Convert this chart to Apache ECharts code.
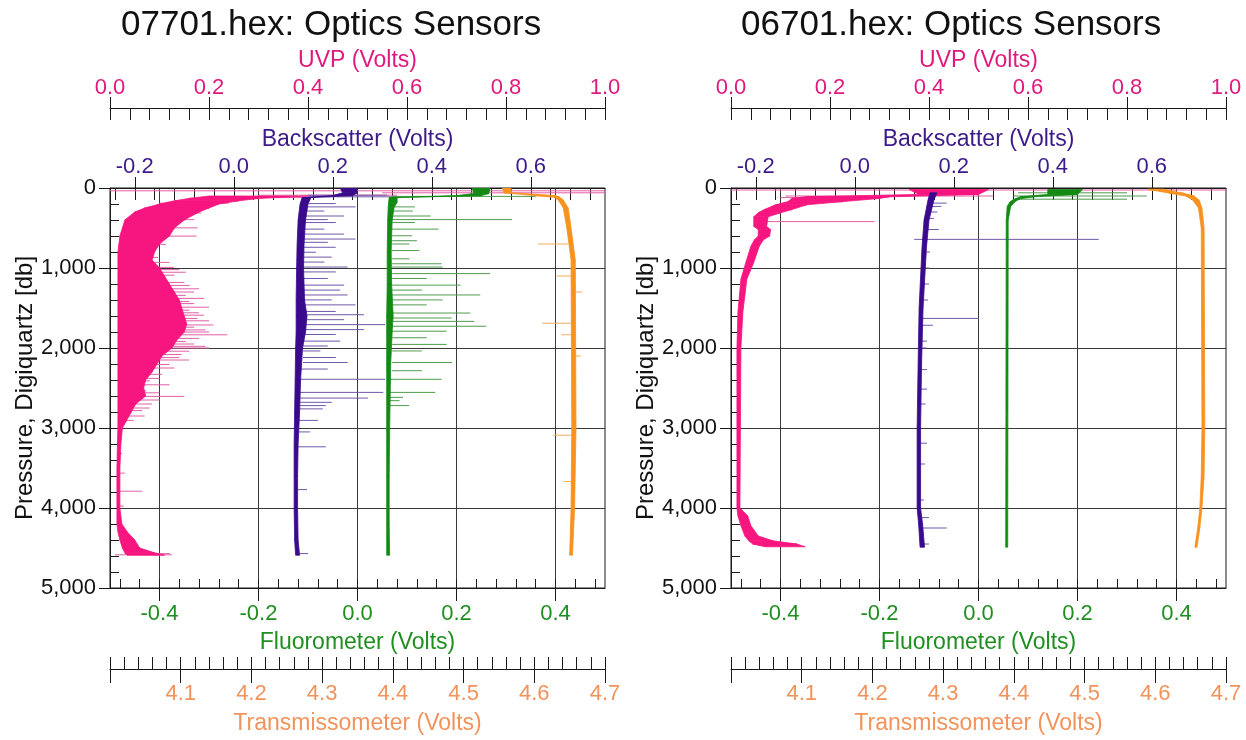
<!DOCTYPE html>
<html>
<head>
<meta charset="utf-8">
<script src="https://cdn.jsdelivr.net/npm/echarts@6/dist/echarts.min.js"></script>
<style>html,body{margin:0;padding:0;background:#fff}#c{width:1246px;height:740px}</style>
</head>
<body>
<div id="c"></div>
<script>
// ---------- text ----------
const titles = ['07701.hex: Optics Sensors', '06701.hex: Optics Sensors'];
const axisNames = { uvp: 'UVP (Volts)', bs: 'Backscatter (Volts)', fl: 'Fluorometer (Volts)', tr: 'Transmissometer (Volts)', depth: 'Pressure, Digiquartz [db]' };

// ---------- tick labels ----------
const uvpTicks = [0, 0.2, 0.4, 0.6, 0.8, 1.0];
const bsTicks = [-0.2, 0, 0.2, 0.4, 0.6];
const flTicks = [-0.4, -0.2, 0, 0.2, 0.4];
const trTicks = [4.1, 4.2, 4.3, 4.4, 4.5, 4.6, 4.7];
const depthTicks = [0, 1000, 2000, 3000, 4000, 5000];

// ---------- data: bands [depth, low, high], spikes [depth, from, to] ----------
// Panel 1: 07701
const A_uvpBand = [[100,0.20,0.40],[130,0.16,0.30],[160,0.13,0.26],[200,0.10,0.22],[250,0.07,0.20],[300,0.05,0.18],[400,0.03,0.15],[500,0.025,0.13],[600,0.02,0.12],[700,0.018,0.10],[800,0.016,0.09],[900,0.016,0.085],[1000,0.016,0.10],[1100,0.016,0.11],[1200,0.016,0.12],[1300,0.016,0.13],[1400,0.016,0.14],[1500,0.016,0.145],[1600,0.016,0.15],[1700,0.016,0.155],[1800,0.016,0.15],[1900,0.016,0.135],[2000,0.016,0.125],[2100,0.016,0.105],[2200,0.016,0.095],[2300,0.016,0.085],[2400,0.016,0.072],[2500,0.016,0.068],[2600,0.016,0.072],[2700,0.016,0.052],[2800,0.016,0.043],[2900,0.016,0.034],[3000,0.016,0.025],[3200,0.015,0.022],[3500,0.014,0.02],[4000,0.014,0.02],[4200,0.014,0.024],[4300,0.016,0.035],[4400,0.02,0.05],[4500,0.025,0.06],[4560,0.03,0.09],[4590,0.035,0.11]];
const A_uvpSpikes = [[35,0.0,1.0],[60,0.55,1.0],[90,0.3,0.58],[120,0.2,0.4],[190,0.1,0.24],[251,0.08,0.2],[313,0.05,0.185],[395,0.03,0.17],[498,0.03,0.177],[601,0.02,0.175],[704,0.02,0.113],[868,0.02,0.097],[930,0.02,0.12],[992,0.02,0.129],[1020,0.02,0.14],[1053,0.02,0.153],[1090,0.02,0.13],[1136,0.02,0.097],[1180,0.02,0.15],[1218,0.02,0.161],[1260,0.02,0.18],[1300,0.02,0.17],[1342,0.02,0.153],[1380,0.02,0.19],[1420,0.02,0.16],[1445,0.02,0.17],[1490,0.02,0.2],[1527,0.02,0.161],[1560,0.02,0.18],[1590,0.02,0.19],[1630,0.02,0.177],[1660,0.02,0.2],[1712,0.02,0.209],[1740,0.02,0.17],[1774,0.02,0.193],[1800,0.02,0.2],[1835,0.02,0.237],[1880,0.02,0.18],[1918,0.02,0.153],[1950,0.02,0.17],[1979,0.02,0.193],[2000,0.02,0.2],[2040,0.02,0.16],[2082,0.02,0.145],[2120,0.02,0.14],[2150,0.02,0.16],[2206,0.02,0.12],[2250,0.02,0.13],[2329,0.02,0.105],[2380,0.02,0.1],[2411,0.02,0.081],[2460,0.02,0.12],[2535,0.02,0.073],[2560,0.02,0.1],[2605,0.02,0.15],[2650,0.02,0.1],[2700,0.02,0.085],[2750,0.02,0.08],[2782,0.02,0.065],[2850,0.02,0.07],[2905,0.02,0.048],[3317,0.015,0.024],[3564,0.015,0.03],[3790,0.015,0.065],[3975,0.015,0.028],[4570,0.03,0.121],[4585,0.01,0.125]];
const A_bsBand = [[0,0.215,0.248],[60,0.22,0.25],[95,0.2,0.24],[120,0.138,0.156],[200,0.134,0.15],[400,0.13,0.145],[700,0.128,0.142],[1000,0.127,0.141],[1400,0.126,0.143],[1600,0.126,0.148],[1800,0.126,0.145],[2000,0.125,0.139],[2400,0.124,0.135],[2800,0.123,0.133],[3200,0.122,0.13],[3600,0.122,0.129],[4000,0.122,0.129],[4400,0.123,0.13],[4590,0.125,0.133]];
const A_bsSpikes = [[90,0.15,0.31],[110,0.15,0.34],[195,0.14,0.206],[236,0.14,0.246],[288,0.14,0.183],[350,0.14,0.223],[395,0.14,0.19],[432,0.14,0.206],[514,0.14,0.183],[576,0.14,0.223],[638,0.14,0.246],[679,0.14,0.19],[741,0.14,0.206],[803,0.14,0.166],[864,0.14,0.198],[926,0.14,0.183],[988,0.14,0.23],[1049,0.14,0.206],[1131,0.14,0.19],[1214,0.14,0.223],[1276,0.14,0.215],[1337,0.14,0.23],[1399,0.14,0.198],[1461,0.14,0.246],[1543,0.14,0.206],[1584,0.14,0.263],[1646,0.14,0.223],[1708,0.14,0.306],[1770,0.14,0.263],[1831,0.14,0.206],[1914,0.14,0.215],[1975,0.14,0.19],[2037,0.14,0.175],[2119,0.14,0.206],[2181,0.14,0.23],[2263,0.13,0.19],[2391,0.13,0.306],[2555,0.13,0.302],[2626,0.13,0.271],[2679,0.13,0.198],[2720,0.13,0.186],[2761,0.13,0.18],[2905,0.13,0.17],[3049,0.13,0.154],[3235,0.13,0.186],[3770,0.13,0.148],[4570,0.13,0.15]];
const A_flBand = [[0,0.232,0.268],[70,0.235,0.265],[95,0.2,0.25],[120,0.064,0.08],[180,0.063,0.08],[240,0.062,0.074],[400,0.061,0.07],[800,0.06,0.068],[1200,0.06,0.069],[1600,0.059,0.072],[1800,0.059,0.07],[2200,0.059,0.067],[2600,0.059,0.066],[3000,0.059,0.065],[3600,0.059,0.064],[4200,0.059,0.064],[4590,0.059,0.065]];
const A_flSpikes = [[105,0.07,0.36],[236,0.07,0.116],[288,0.07,0.112],[350,0.07,0.148],[395,0.07,0.312],[432,0.07,0.116],[514,0.07,0.164],[597,0.07,0.11],[659,0.07,0.12],[700,0.07,0.105],[782,0.07,0.125],[885,0.07,0.105],[947,0.07,0.17],[988,0.07,0.172],[1070,0.07,0.268],[1131,0.07,0.14],[1214,0.07,0.208],[1276,0.07,0.13],[1337,0.07,0.248],[1399,0.07,0.172],[1461,0.07,0.14],[1563,0.07,0.228],[1625,0.07,0.19],[1667,0.07,0.236],[1728,0.07,0.26],[1790,0.07,0.18],[1872,0.07,0.14],[1955,0.07,0.18],[2037,0.07,0.13],[2181,0.07,0.191],[2284,0.07,0.13],[2391,0.065,0.17],[2555,0.065,0.157],[2617,0.065,0.092],[2658,0.065,0.085],[2720,0.065,0.104]];
const A_trBand = [[0,4.555,4.567],[60,4.557,4.568],[95,4.6,4.63],[115,4.628,4.636],[150,4.634,4.641],[250,4.641,4.648],[500,4.646,4.652],[900,4.652,4.658],[3000,4.653,4.659],[4000,4.652,4.657],[4590,4.65,4.654]];
const A_trSpikes = [[700,4.648,4.605],[1100,4.652,4.632],[1300,4.656,4.668],[1690,4.652,4.611],[1835,4.652,4.638],[2100,4.656,4.666],[3090,4.652,4.627],[3670,4.652,4.641]];

// Panel 2: 06701
const B_uvpBand = [[20,0.36,0.52],[80,0.38,0.5],[110,0.15,0.32],[130,0.123,0.3],[170,0.115,0.226],[210,0.09,0.153],[270,0.067,0.123],[310,0.055,0.1],[360,0.046,0.075],[480,0.046,0.072],[520,0.055,0.08],[600,0.055,0.078],[650,0.047,0.065],[730,0.04,0.057],[930,0.03,0.046],[1140,0.02,0.032],[1550,0.014,0.024],[2000,0.012,0.02],[3000,0.012,0.019],[4000,0.012,0.018],[4100,0.014,0.034],[4220,0.02,0.04],[4350,0.028,0.055],[4410,0.036,0.085],[4450,0.044,0.133],[4485,0.069,0.15]];
const B_uvpSpikes = [[25,0.0,1.0],[100,0.11,0.53],[120,0.1,0.3],[420,0.07,0.29]];
const B_bsBand = [[60,0.152,0.166],[150,0.148,0.16],[400,0.14,0.15],[730,0.136,0.145],[1500,0.13,0.138],[2200,0.128,0.135],[3000,0.126,0.133],[4000,0.126,0.133],[4200,0.129,0.137],[4490,0.132,0.141]];
const B_bsSpikes = [[189,0.15,0.186],[230,0.145,0.175],[300,0.145,0.167],[380,0.14,0.16],[519,0.14,0.17],[642,0.12,0.493],[800,0.135,0.152],[1000,0.133,0.15],[1200,0.133,0.15],[1400,0.13,0.148],[1630,0.13,0.251],[1716,0.13,0.158],[1914,0.13,0.146],[2000,0.128,0.145],[2270,0.13,0.146],[2514,0.13,0.146],[2700,0.127,0.143],[3190,0.13,0.146],[3450,0.126,0.142],[3900,0.126,0.14],[4120,0.132,0.15],[4250,0.132,0.186],[4450,0.135,0.15]];
const B_flBand = [[20,0.14,0.21],[80,0.14,0.2],[110,0.085,0.11],[135,0.074,0.084],[170,0.064,0.074],[230,0.058,0.065],[400,0.056,0.06],[4490,0.055,0.059]];
const B_flSpikes = [[60,0.08,0.3],[100,0.07,0.34],[140,0.075,0.3]];
const B_trBand = [[15,4.59,4.612],[40,4.605,4.625],[65,4.62,4.64],[100,4.643,4.655],[150,4.653,4.662],[250,4.661,4.666],[500,4.665,4.669],[3000,4.666,4.67],[3600,4.665,4.669],[4000,4.663,4.666],[4250,4.66,4.663],[4490,4.656,4.659]];
const B_trSpikes = [[30,4.59,4.62]];

// ---------- styling ----------
const FONT = 'Liberation Sans, Arial, sans-serif';
const TXT = { uvp: '#e0197d', bs: '#3d1a8a', fl: '#1f8f1f', tr: '#f2935c' };
const LINE = { uvp: '#f7157f', bs: '#3a0a8c', fl: '#138a13', tr: '#f7921e' };
const SPIKE = { uvp: '#e060a4', bs: '#7058a8', fl: '#4f9c4f', tr: '#f4ad5e' };
const GRIDS = [110, 731];
const TOP = 188, W = 495, H = 404;

function steps(a, b, s) { const r = []; for (let v = a; v <= b + 1e-9; v += s) r.push(Math.round(v * 1000) / 1000); return r; }
const f1 = v => Number(v).toFixed(1);

const panels = [
  { uvp: [A_uvpBand, A_uvpSpikes], bs: [A_bsBand, A_bsSpikes], fl: [A_flBand, A_flSpikes], tr: [A_trBand, A_trSpikes] },
  { uvp: [B_uvpBand, B_uvpSpikes], bs: [B_bsBand, B_bsSpikes], fl: [B_flBand, B_flSpikes], tr: [B_trBand, B_trSpikes] }
];
const axOff = { uvp: 0, bs: 2, fl: 4, tr: 6 };

const grid = [], xAxis = [], yAxis = [], series = [], title = [];
const black = '#1a1a1a';

GRIDS.forEach((left, g) => {
  grid.push({ left: left, top: TOP, width: W, height: H, show: true, borderColor: black, borderWidth: 1, backgroundColor: 'transparent' });
  title.push({ text: titles[g], left: g === 0 ? 116 : 736, top: 3, textStyle: { fontSize: 35, fontWeight: 'normal', color: '#111', fontFamily: FONT } });
  const base = { gridIndex: g, type: 'value', splitLine: { show: false }, axisLine: { onZero: false, lineStyle: { color: black } } };
  const nameStyle = c => ({ color: c, fontSize: 23, fontFamily: FONT });
  // 0 UVP major
  xAxis.push(Object.assign({}, base, { position: 'top', offset: 80, min: 0, max: 1, interval: 0.2,
    axisLine: { show: true, onZero: false, lineStyle: { color: black } },
    axisTick: { show: true, inside: false, length: 11, lineStyle: { color: black } },
    axisLabel: { color: TXT.uvp, fontSize: 22, margin: 9, formatter: f1, fontFamily: FONT },
    name: axisNames.uvp, nameLocation: 'middle', nameGap: 35, nameTextStyle: nameStyle(TXT.uvp) }));
  // 1 UVP minor
  xAxis.push(Object.assign({}, base, { position: 'top', offset: 80, min: 0, max: 1, interval: 0.04,
    axisLine: { show: false, onZero: false }, axisTick: { show: true, inside: true, length: 12, lineStyle: { color: black } }, axisLabel: { show: false } }));
  // 2 Backscatter major
  xAxis.push(Object.assign({}, base, { position: 'top', offset: 0, min: -0.25, max: 0.75,
    axisLine: { show: true, onZero: false, lineStyle: { color: black } },
    axisTick: { show: true, inside: false, length: 11, customValues: bsTicks, lineStyle: { color: black } },
    axisLabel: { color: TXT.bs, fontSize: 22, margin: 10, customValues: bsTicks, formatter: f1, fontFamily: FONT },
    name: axisNames.bs, nameLocation: 'middle', nameGap: 34, nameTextStyle: nameStyle(TXT.bs) }));
  // 3 Backscatter minor
  xAxis.push(Object.assign({}, base, { position: 'top', offset: 0, min: -0.25, max: 0.75,
    axisLine: { show: false, onZero: false }, axisTick: { show: true, inside: true, length: 12, customValues: steps(-0.24, 0.72, 0.04), lineStyle: { color: black } }, axisLabel: { show: false } }));
  // 4 Fluorometer major
  xAxis.push(Object.assign({}, base, { position: 'bottom', offset: 0, min: -0.5, max: 0.5,
    axisLine: { show: true, onZero: false, lineStyle: { color: black } },
    axisTick: { show: true, inside: false, length: 13, customValues: flTicks, lineStyle: { color: black } },
    axisLabel: { color: TXT.fl, fontSize: 22, margin: 15, customValues: flTicks, formatter: f1, fontFamily: FONT },
    splitLine: { show: true, lineStyle: { color: '#3a3a3a', width: 1 } },
    name: axisNames.fl, nameLocation: 'middle', nameGap: 43, nameTextStyle: nameStyle(TXT.fl) }));
  // 5 Fluorometer minor
  xAxis.push(Object.assign({}, base, { position: 'bottom', offset: 0, min: -0.5, max: 0.5,
    axisLine: { show: false, onZero: false }, axisTick: { show: true, inside: true, length: 9, customValues: steps(-0.48, 0.48, 0.04), lineStyle: { color: black } }, axisLabel: { show: false } }));
  // 6 Transmissometer major
  xAxis.push(Object.assign({}, base, { position: 'bottom', offset: 81, min: 4.0, max: 4.7, interval: 0.1,
    axisLine: { show: true, onZero: false, lineStyle: { color: black } },
    axisTick: { show: true, inside: false, length: 14, lineStyle: { color: black } },
    axisLabel: { color: TXT.tr, fontSize: 22, margin: 14, fontFamily: FONT, formatter: v => (trTicks.some(t => Math.abs(t - v) < 1e-6) ? f1(v) : '') },
    name: axisNames.tr, nameLocation: 'middle', nameGap: 43, nameTextStyle: nameStyle(TXT.tr) }));
  // 7 Transmissometer minor
  xAxis.push(Object.assign({}, base, { position: 'bottom', offset: 81, min: 4.0, max: 4.7, interval: 0.02,
    axisLine: { show: false, onZero: false }, axisTick: { show: true, inside: true, length: 12, lineStyle: { color: black } }, axisLabel: { show: false } }));

  // y axes
  yAxis.push({ gridIndex: g, type: 'value', inverse: true, min: 0, max: 5000, interval: 1000, position: 'left',
    axisLine: { show: true, onZero: false, lineStyle: { color: black } },
    axisTick: { show: true, length: 11, lineStyle: { color: black } },
    axisLabel: { color: '#111', fontSize: 22, margin: 14, fontFamily: FONT, formatter: v => depthTicks.includes(v) ? v.toLocaleString('en-US') : '' },
    splitLine: { show: true, lineStyle: { color: '#3a3a3a', width: 1 } },
    name: axisNames.depth, nameLocation: 'middle', nameGap: 70, nameRotate: 90, nameTextStyle: { color: '#111', fontSize: 24, fontFamily: FONT } });
  yAxis.push({ gridIndex: g, type: 'value', inverse: true, min: 0, max: 5000, interval: 200, position: 'left',
    axisLine: { show: false, onZero: false }, axisTick: { show: true, inside: true, length: 9, lineStyle: { color: black } },
    axisLabel: { show: false }, splitLine: { show: false } });

  // series
  ['uvp', 'bs', 'fl', 'tr'].forEach(key => {
    const band = panels[g][key][0], spikes = panels[g][key][1];
    const xi = g * 8 + axOff[key], yi = g * 2;
    const spikeColor = SPIKE[key], lineColor = LINE[key];
    series.push({
      type: 'custom', name: key + '-spikes', xAxisIndex: xi, yAxisIndex: yi, clip: true, z: 3,
      data: spikes, encode: { x: [1, 2], y: [0] },
      renderItem: (params, api) => {
        const p = api.coord([api.value(1), api.value(0)]);
        const q = api.coord([api.value(2), api.value(0)]);
        return { type: 'line', shape: { x1: p[0], y1: p[1], x2: q[0], y2: q[1] }, style: { stroke: spikeColor, lineWidth: 1 } };
      }
    });
    const segs = [];
    for (let i = 0; i < band.length - 1; i++) segs.push([band[i][1], band[i][2], band[i][0], band[i + 1][1], band[i + 1][2], band[i + 1][0]]);
    series.push({
      type: 'custom', name: key + '-band', xAxisIndex: xi, yAxisIndex: yi, clip: true, z: 4,
      data: segs, encode: { x: [0, 1, 3, 4], y: [2, 5] },
      renderItem: (params, api) => {
        const a = api.coord([api.value(0), api.value(2)]);
        const b = api.coord([api.value(1), api.value(2)]);
        const c = api.coord([api.value(4), api.value(5)]);
        const d = api.coord([api.value(3), api.value(5)]);
        return { type: 'polygon', shape: { points: [a, b, c, d] }, style: { fill: lineColor, stroke: lineColor, lineWidth: 0.8 } };
      }
    });
  });
});

const chart = echarts.init(document.getElementById('c'), null, { renderer: 'canvas' });
chart.setOption({ animation: false, backgroundColor: '#fff', textStyle: { fontFamily: FONT }, title, grid, xAxis, yAxis, series });
</script>
</body>
</html>
